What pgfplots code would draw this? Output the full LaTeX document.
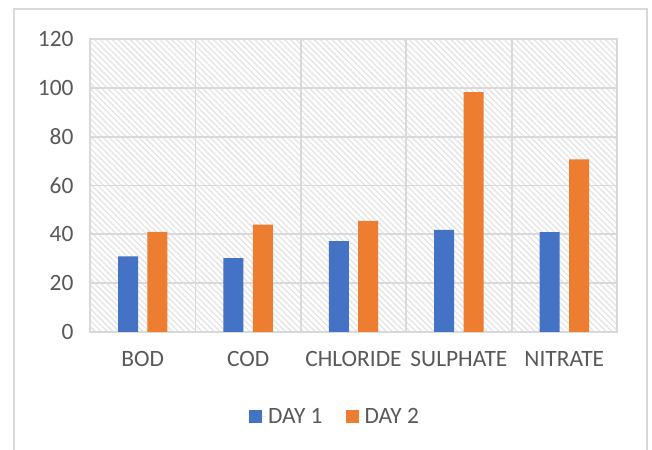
\documentclass[border=0pt]{standalone}
\usepackage{fontspec}
\setmainfont{Carlito}
\usepackage{pgfplots}
\pgfplotsset{compat=1.18}
\usetikzlibrary{patterns.meta}
\definecolor{xblue}{HTML}{4472C4}
\definecolor{xorange}{HTML}{ED7D31}
\definecolor{xgrid}{HTML}{D9D9D9}
\definecolor{xtext}{HTML}{595959}
\definecolor{xhatch}{HTML}{E4E4E4}
\begin{document}
\begin{tikzpicture}[x=1bp,y=1bp]
\clip (0,0) rectangle (652,450);
\fill[white] (0,0) rectangle (652,450);
\draw[xgrid, line width=1.5bp] (14,441) rectangle (647,-20);
\begin{axis}[
 at={(90bp,118bp)}, anchor=south west,
 scale only axis, width=527bp, height=293bp,
 ybar=9.4bp, bar width=20bp,
 xmin=-0.5, xmax=4.5, ymin=0, ymax=120, ytick distance=20,
 xtick={0,...,4}, xticklabels={BOD,COD,CHLORIDE,SULPHATE,NITRATE},
 minor xtick={-0.5,0.5,...,4.5},
 xminorgrids, ymajorgrids,
 grid style={xgrid, line width=1.8bp},
 minor grid style={xgrid, line width=1.8bp},
 axis line style={xgrid, line width=1.8bp},
 tick style={draw=none},
 major tick length=0pt, minor tick length=0pt,
 ticklabel style={font=\fontsize{23.5}{26}\selectfont, text=xtext},
 /pgf/number format/assume math mode=true,
 yticklabel style={xshift=-13bp},
 xticklabel style={yshift=-16bp},
 axis background/.style={pattern={Lines[angle=-45,distance=4.2bp,line width=1.3bp]}, pattern color=xhatch},
 legend style={at={(0.465,-0.29)}, anchor=center, draw=none, fill=none,
   font=\fontsize{23.5}{26}\selectfont, text=xtext,
   /tikz/every even column/.append style={column sep=21bp}},
 legend columns=2,
 legend image code/.code={\fill[#1, draw=none] (0bp,-6.5bp) rectangle (13bp,6.5bp); \path (13bp,0) -- (17bp,0);},
]
\addplot[fill=xblue, draw=none] coordinates {(0,31) (1,30.3) (2,37.2) (3,41.8) (4,40.9)};
\addplot[fill=xorange, draw=none] coordinates {(0,41) (1,44) (2,45.5) (3,98.2) (4,70.7)};
\legend{DAY 1, DAY 2}
\end{axis}
\end{tikzpicture}
\end{document}
